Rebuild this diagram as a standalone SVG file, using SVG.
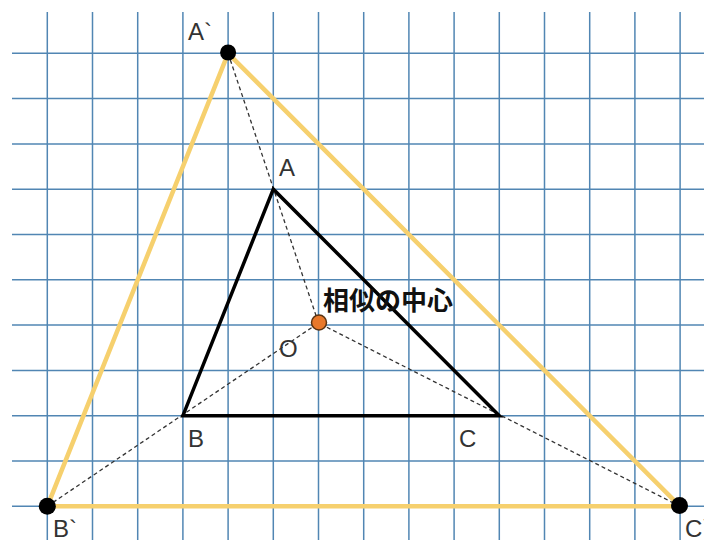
<svg xmlns="http://www.w3.org/2000/svg" width="704" height="540" viewBox="0 0 704 540">
<style>
.grid line{stroke:#5186b3;stroke-width:1.5}
.dash{stroke:#333;stroke-width:1.3;stroke-dasharray:4 3;fill:none}
.big{fill:none;stroke:#f6d06e;stroke-width:4.5;stroke-linejoin:round}
.small{fill:none;stroke:#000;stroke-width:3.5;stroke-linejoin:miter}
.lbl{font-family:"Liberation Sans","DejaVu Sans",sans-serif;font-size:24px;fill:#333}
.pt{fill:#000}
</style>
<rect width="704" height="540" fill="#fff"/>
<g class="grid">
<line x1="47.3" y1="12" x2="47.3" y2="540"/>
<line x1="92.5" y1="12" x2="92.5" y2="540"/>
<line x1="137.7" y1="12" x2="137.7" y2="540"/>
<line x1="182.9" y1="12" x2="182.9" y2="540"/>
<line x1="228.1" y1="12" x2="228.1" y2="540"/>
<line x1="273.3" y1="12" x2="273.3" y2="540"/>
<line x1="318.5" y1="12" x2="318.5" y2="540"/>
<line x1="363.7" y1="12" x2="363.7" y2="540"/>
<line x1="408.9" y1="12" x2="408.9" y2="540"/>
<line x1="454.1" y1="12" x2="454.1" y2="540"/>
<line x1="499.3" y1="12" x2="499.3" y2="540"/>
<line x1="544.5" y1="12" x2="544.5" y2="540"/>
<line x1="589.7" y1="12" x2="589.7" y2="540"/>
<line x1="634.9" y1="12" x2="634.9" y2="540"/>
<line x1="680.1" y1="12" x2="680.1" y2="540"/>
<line x1="12" y1="53.3" x2="704" y2="53.3"/>
<line x1="12" y1="98.6" x2="704" y2="98.6"/>
<line x1="12" y1="143.9" x2="704" y2="143.9"/>
<line x1="12" y1="189.2" x2="704" y2="189.2"/>
<line x1="12" y1="234.5" x2="704" y2="234.5"/>
<line x1="12" y1="279.8" x2="704" y2="279.8"/>
<line x1="12" y1="325.1" x2="704" y2="325.1"/>
<line x1="12" y1="370.4" x2="704" y2="370.4"/>
<line x1="12" y1="415.7" x2="704" y2="415.7"/>
<line x1="12" y1="461" x2="704" y2="461"/>
<line x1="12" y1="506.3" x2="704" y2="506.3"/>
</g>
<g id="connectors">
<line class="dash" x1="228.1" y1="53.3" x2="318.5" y2="323"/>
<line class="dash" x1="47.3" y1="506.3" x2="318.5" y2="323"/>
<line class="dash" x1="680.1" y1="506.3" x2="318.5" y2="323"/>
<polygon id="tri-big" class="big" points="228.1,53.3 47.3,506.3 680.1,506.3"/>
<polygon id="tri-small" class="small" points="273.3,189.2 182.9,415.7 499.3,415.7"/>
</g>
<g id="nodeA1"><circle class="pt" cx="228.1" cy="52.5" r="8"/><text class="lbl" x="188" y="40">A`</text></g>
<g id="nodeB1"><circle class="pt" cx="47.3" cy="506.3" r="8.5"/><text class="lbl" x="53" y="537">B`</text></g>
<g id="nodeC1"><circle class="pt" cx="679.5" cy="505.5" r="8.5"/><text class="lbl" x="685" y="537">C`</text></g>
<g id="nodeA"><text class="lbl" x="279" y="176">A</text></g>
<g id="nodeB"><text class="lbl" x="188" y="447">B</text></g>
<g id="nodeC"><text class="lbl" x="459" y="447">C</text></g>
<g id="nodeO"><circle cx="319" cy="322.5" r="7.5" fill="#e8782a" stroke="#5a3311" stroke-width="1.5"/><text class="lbl" x="279" y="357">O</text></g>
<g id="center-label"><text x="323" y="310" style="font-family:'Noto Sans CJK JP','Noto Sans CJK SC',sans-serif;font-size:26px;font-weight:bold;fill:#111">相似の中心</text></g>
</svg>
